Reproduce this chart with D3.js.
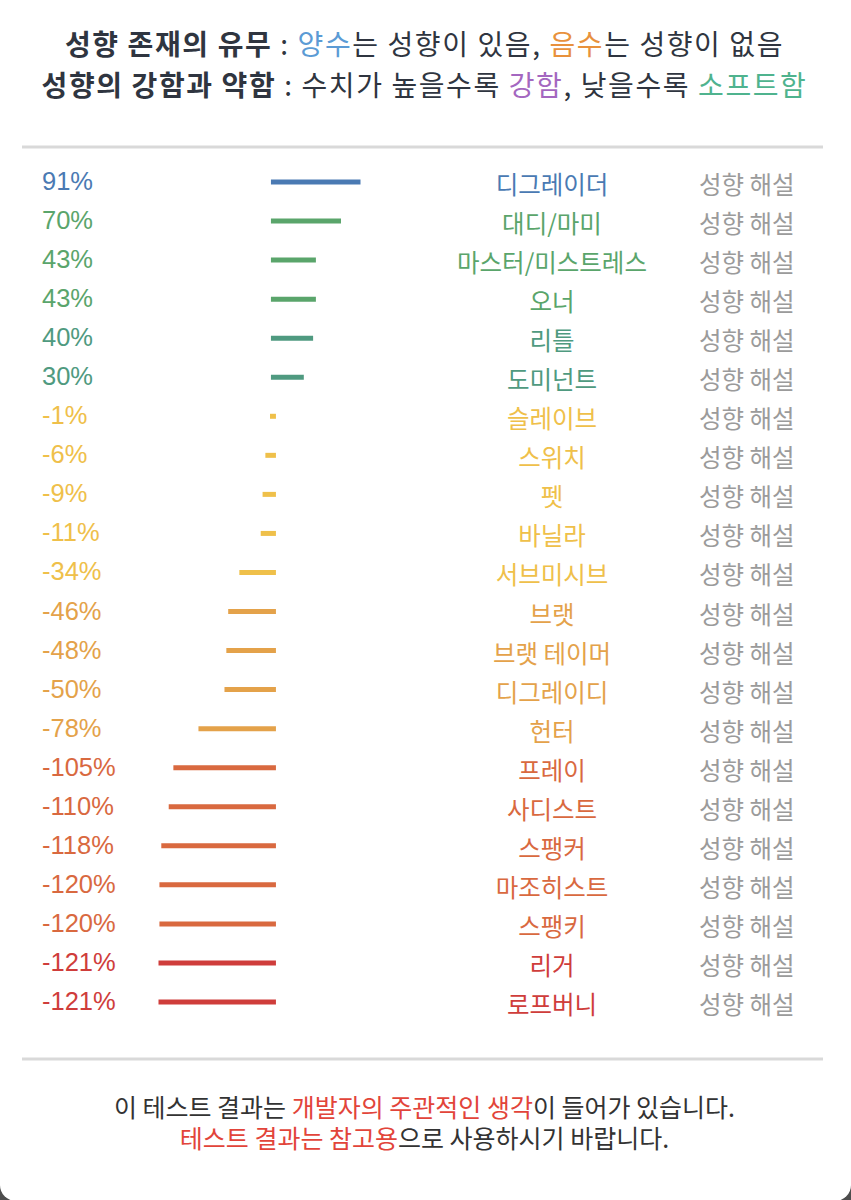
<!DOCTYPE html>
<html>
<head>
<meta charset="utf-8">
<script src="https://cdn.jsdelivr.net/npm/d3@7"></script>
<style>
  body { margin: 0; background: #4d4d4d; }
  svg { display: block; }
</style>
</head>
<body>
<div id="chart"></div>
<script>
// 성향 이름, 수치, 색 그룹
const names = ["디그레이더", "대디/마미", "마스터/미스트레스", "오너", "리틀", "도미넌트",
  "슬레이브", "스위치", "펫", "바닐라", "서브미시브", "브랫", "브랫 테이머", "디그레이디",
  "헌터", "프레이", "사디스트", "스팽커", "마조히스트", "스팽키", "리거", "로프버니"];
const values = [91, 70, 43, 43, 40, 30, -1, -6, -9, -11, -34, -46, -48, -50, -78,
  -105, -110, -118, -120, -120, -121, -121];
const tiers = [0, 1, 1, 1, 2, 2, 3, 3, 3, 3, 3, 4, 4, 4, 4, 5, 5, 5, 5, 5, 6, 6];
const tierColors = ["#4a7ab3", "#5aa56b", "#4f9a80", "#efc04a", "#e4a24a", "#d9693f", "#cf3d3b"];
const explainLabel = "성향 해설";

const WIDTH = 851;
const HEIGHT = 1200;
const KR = "'Noto Sans CJK KR', 'Noto Sans', sans-serif";
const NUM = "'Liberation Sans', Arial, sans-serif";
const DARK = "#2f3540";

const svg = d3.select("#chart").append("svg")
  .attr("width", WIDTH).attr("height", HEIGHT);

// 배경 카드
svg.append("rect").attr("width", WIDTH).attr("height", HEIGHT).attr("fill", "#4d4d4d");
svg.append("rect").attr("x", 0).attr("y", -30).attr("width", WIDTH).attr("height", HEIGHT + 31)
  .attr("rx", 16).attr("fill", "#ffffff");

// 제목 두 줄
const header = [
  [["성향 존재의 유무", DARK, 700], [" : ", DARK, 400], ["양수", "#5b9bd5", 400],
   ["는 성향이 있음, ", DARK, 400], ["음수", "#e8913c", 400], ["는 성향이 없음", DARK, 400]],
  [["성향의 강함과 약함", DARK, 700], [" : 수치가 높을수록 ", DARK, 400], ["강함", "#a467c0", 400],
   [", 낮을수록 ", DARK, 400], ["소프트함", "#4fb38e", 400]]
];
const headerY = [55, 96];
header.forEach((parts, i) => {
  const t = svg.append("text")
    .attr("x", WIDTH / 2 - 1).attr("y", headerY[i])
    .attr("text-anchor", "middle")
    .style("font-family", KR).style("font-size", "28px")
    .style("letter-spacing", "1.6px");
  parts.forEach(p => t.append("tspan").text(p[0]).attr("fill", p[1]).style("font-weight", p[2]));
});

// 구분선
[147, 1059].forEach(yy => {
  svg.append("line").attr("x1", 22).attr("x2", 823).attr("y1", yy).attr("y2", yy)
    .attr("stroke", "#d9d9d9").attr("stroke-width", 3);
});

// 스케일
const x = d3.scaleLinear().domain([-121, 91]).range([161, 358]);
const y = d3.scalePoint().domain(d3.range(names.length)).range([182, 1002]);

const rows = svg.append("g")
  .selectAll("g")
  .data(names.map((n, i) => ({ name: n, value: values[i], color: tierColors[tiers[i]], i: i })))
  .join("g")
  .attr("transform", d => `translate(0,${y(d.i)})`);

// 막대 (square cap)
rows.append("line")
  .attr("x1", x(0)).attr("x2", d => x(d.value))
  .attr("stroke", d => d.color)
  .attr("stroke-width", 5)
  .attr("stroke-linecap", "square");

// 퍼센트
rows.append("text")
  .attr("x", 42).attr("y", 8)
  .attr("fill", d => d.color)
  .style("font-family", NUM).style("font-size", "25.5px")
  .text(d => d.value + "%");

// 이름
rows.append("text")
  .attr("x", 552).attr("y", 12)
  .attr("text-anchor", "middle")
  .attr("fill", d => d.color)
  .style("font-family", KR).style("font-size", "24.5px")
  .text(d => d.name);

// 성향 해설
rows.append("text")
  .attr("x", 699).attr("y", 12)
  .attr("fill", "#9b9b9b")
  .style("font-family", KR).style("font-size", "24.5px")
  .text(explainLabel);

// 하단 안내문
const footer = [
  [["이 테스트 결과는 ", "#333333"], ["개발자의 주관적인 생각", "#e2443a"], ["이 들어가 있습니다.", "#333333"]],
  [["테스트 결과는 참고용", "#e2443a"], ["으로 사용하시기 바랍니다.", "#333333"]]
];
const footerY = [1117, 1148];
footer.forEach((parts, i) => {
  const t = svg.append("text")
    .attr("x", WIDTH / 2 - 1).attr("y", footerY[i])
    .attr("text-anchor", "middle")
    .style("font-family", KR).style("font-size", "25px");
  parts.forEach(p => t.append("tspan").text(p[0]).attr("fill", p[1]));
});
</script>
</body>
</html>
